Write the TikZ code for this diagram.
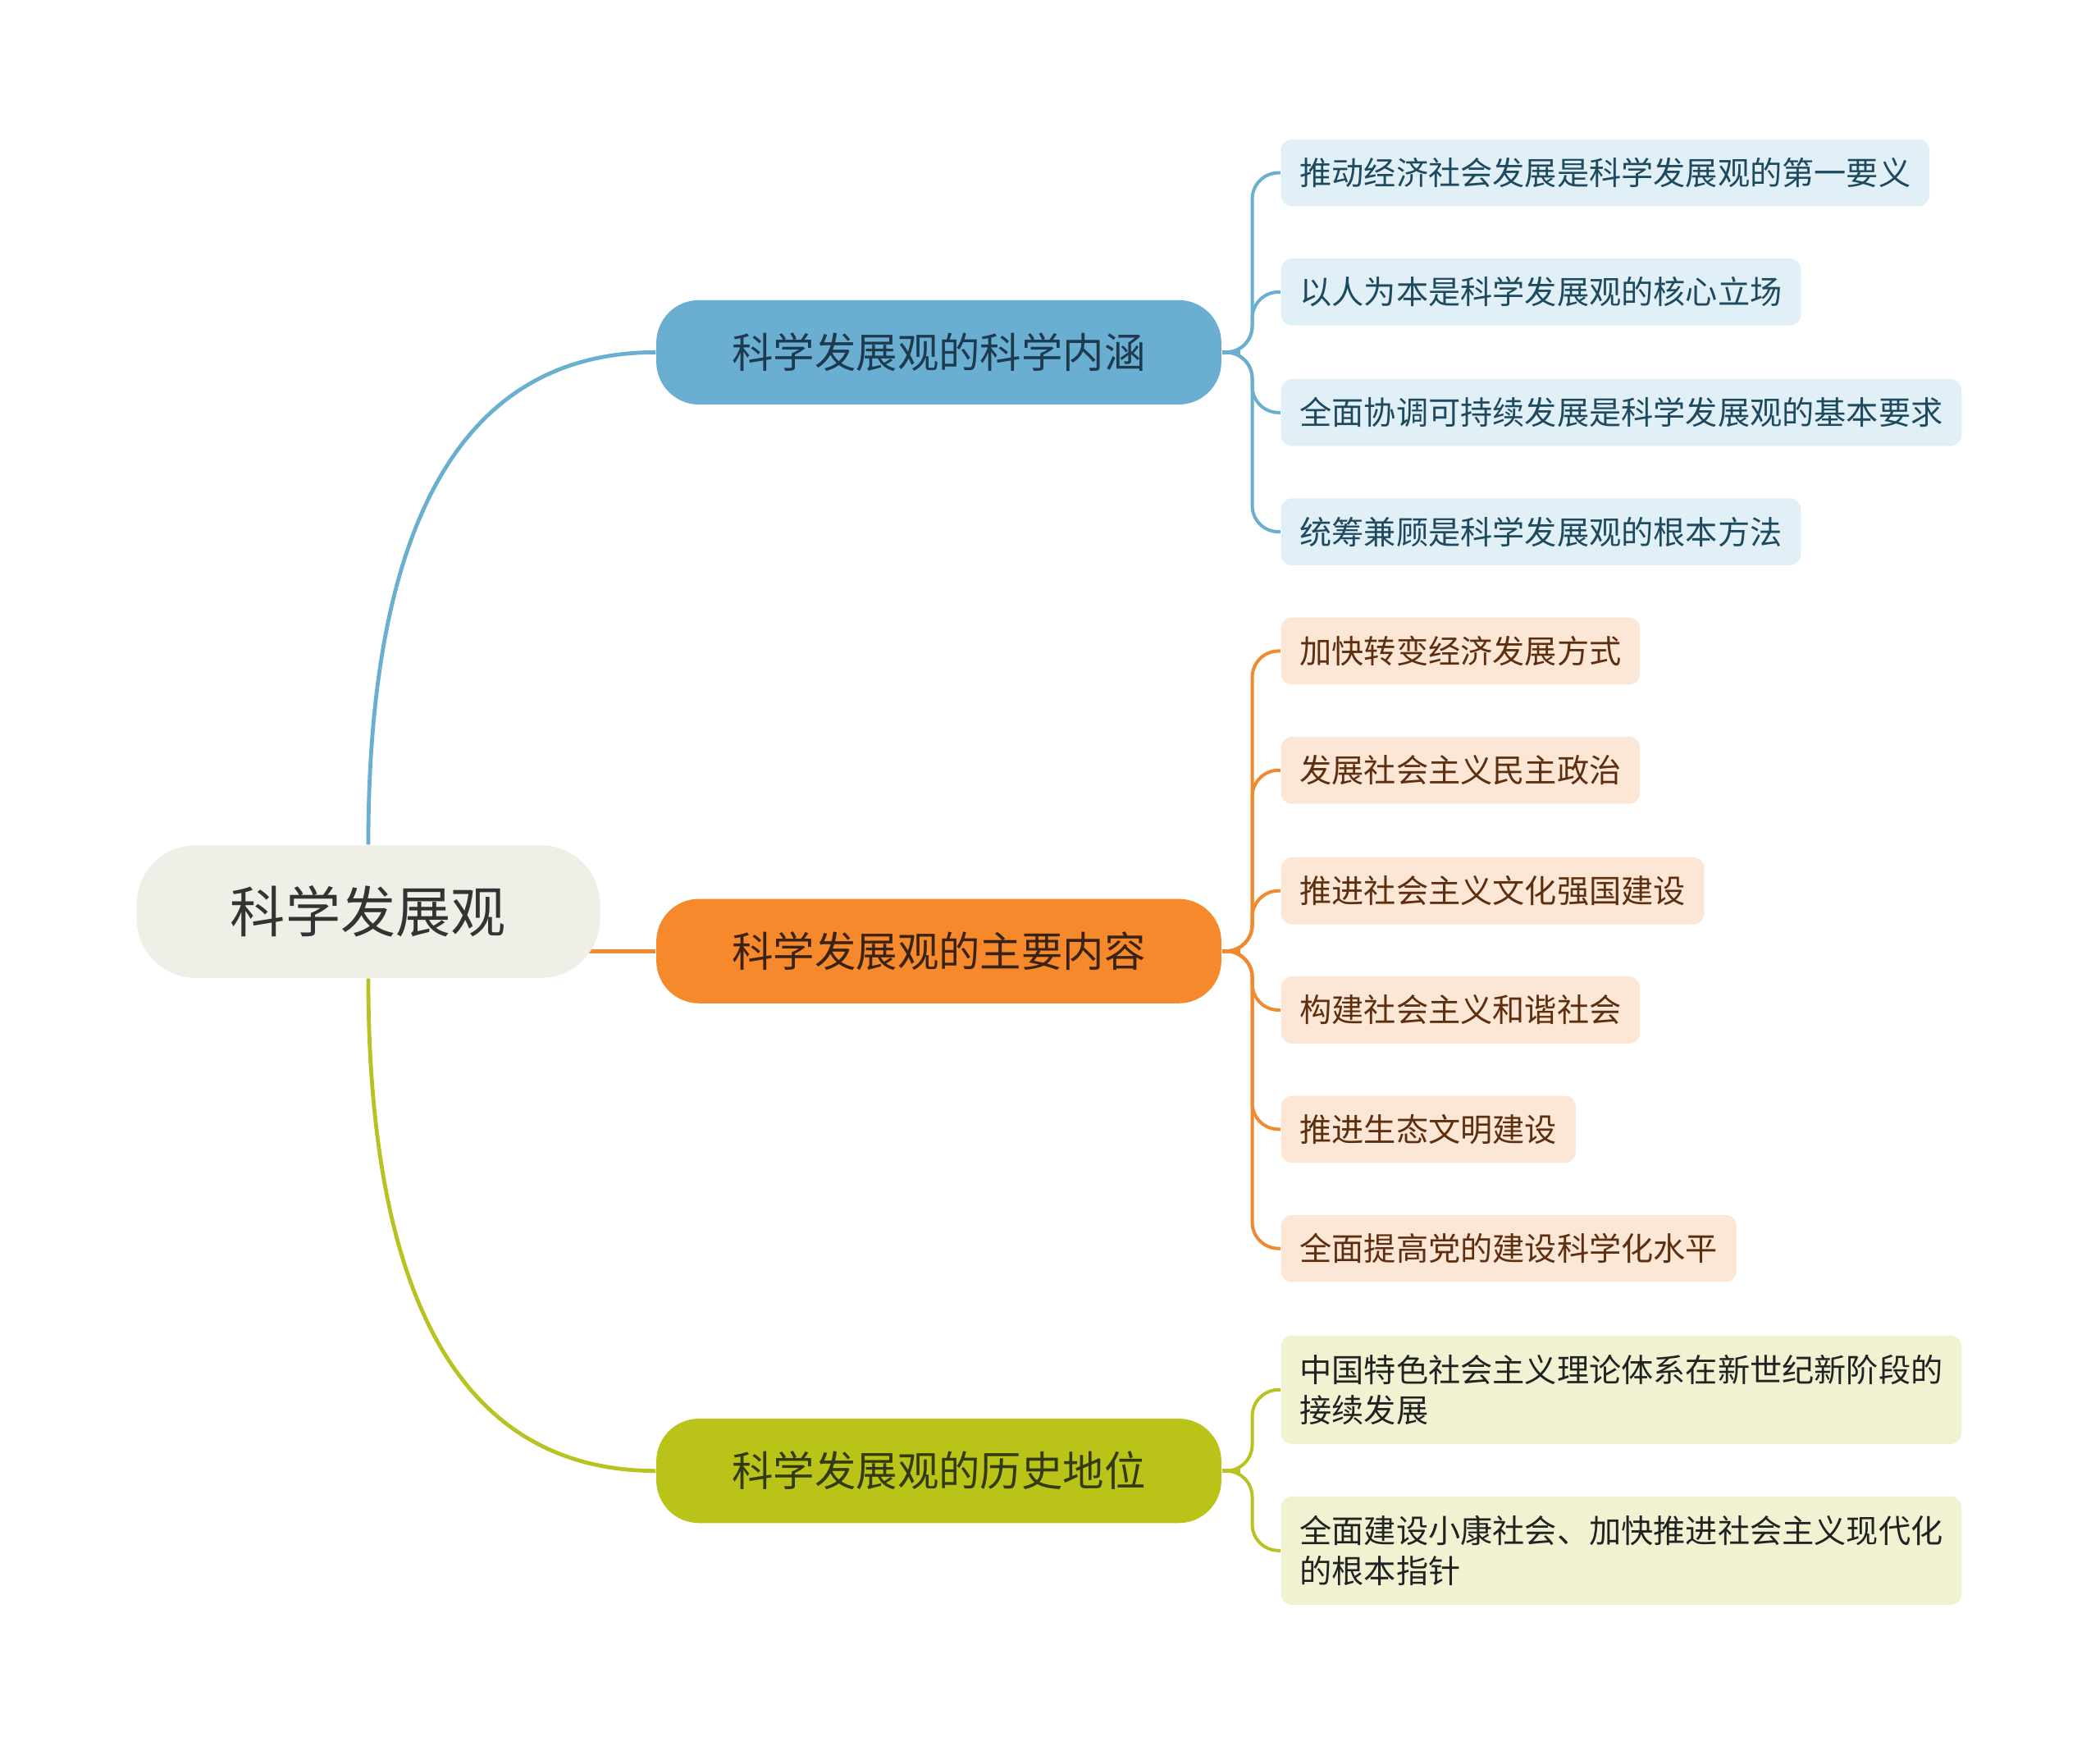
\documentclass[tikz,border=0pt]{standalone}
\usepackage{fontspec}
\setmainfont{Noto Sans CJK SC}
\usetikzlibrary{backgrounds,calc}
\definecolor{rootfill}{HTML}{EFEFE7}
\definecolor{bluefill}{HTML}{6AAFD2}
\definecolor{orangefill}{HTML}{F5892B}
\definecolor{greenfill}{HTML}{BAC418}
\definecolor{blueline}{HTML}{6AAFD0}
\definecolor{orangeline}{HTML}{F08A30}
\definecolor{greenline}{HTML}{B8C220}
\definecolor{blueleaf}{HTML}{E1EFF7}
\definecolor{orangeleaf}{HTML}{FCE6D6}
\definecolor{greenleaf}{HTML}{F0F2D2}
\definecolor{bluetext}{HTML}{1E4A60}
\definecolor{orangetext}{HTML}{5E2F0F}
\definecolor{greentext}{HTML}{222222}
\definecolor{roottext}{HTML}{333333}
\definecolor{bonetext}{HTML}{1D3A4F}
\definecolor{btwotext}{HTML}{3B2314}
\definecolor{bthreetext}{HTML}{333A10}
\tikzset{
  rootbox/.style={fill=rootfill, rounded corners=18pt, minimum width=141.2pt, minimum height=40.4pt,
    inner sep=0pt, text=roottext, font=\fontsize{16.8pt}{20pt}\selectfont},
  branchbox/.style={rounded corners=13pt, minimum width=172.2pt, minimum height=31.8pt,
    inner sep=0pt, font=\fontsize{12.6pt}{15pt}\selectfont},
  leafbox/.style={anchor=west, rounded corners=3.3pt, minimum height=20.4pt, inner xsep=5.7pt,
    inner ysep=0pt, align=left, font=\fontsize{9.8pt}{12.2pt}\selectfont},
  bleaf/.style={leafbox, fill=blueleaf, text=bluetext},
  oleaf/.style={leafbox, fill=orangeleaf, text=orangetext},
  gleaf/.style={leafbox, fill=greenleaf, text=greentext, minimum height=33pt},
  mainline/.style={line width=1.2pt},
  leafline/.style={line width=1pt, rounded corners=8pt},
}
\begin{document}
\begin{tikzpicture}[x=0.40816pt, y=-0.40816pt]
\useasboundingbox (0,0) rectangle (1568,1303);
% root
\node[rootbox] (root) at (275,680.5) {科学发展观};
% branches
\node[branchbox, fill=bluefill, text=bonetext] (b1) at (701,263) {科学发展观的科学内涵};
\node[branchbox, fill=orangefill, text=btwotext] (b2) at (701,710) {科学发展观的主要内容};
\node[branchbox, fill=greenfill, text=bthreetext] (b3) at (701,1098) {科学发展观的历史地位};
% blue leaves
\node[bleaf] (l11) at (956,129) {推动经济社会发展是科学发展观的第一要义};
\node[bleaf] (l12) at (956,218) {以人为本是科学发展观的核心立场};
\node[bleaf] (l13) at (956,308) {全面协调可持续发展是科学发展观的基本要求};
\node[bleaf] (l14) at (956,397) {统筹兼顾是科学发展观的根本方法};
% orange leaves
\node[oleaf] (l21) at (956,486) {加快转变经济发展方式};
\node[oleaf] (l22) at (956,575) {发展社会主义民主政治};
\node[oleaf] (l23) at (956,665) {推进社会主义文化强国建设};
\node[oleaf] (l24) at (956,754) {构建社会主义和谐社会};
\node[oleaf] (l25) at (956,843) {推进生态文明建设};
\node[oleaf] (l26) at (956,932) {全面提高党的建设科学化水平};
% green leaves
\node[gleaf] (l31) at (956,1037.5) {中国特色社会主义理论体系在新世纪新阶段的\\接续发展};
\node[gleaf] (l32) at (956,1157.5) {全面建设小康社会、加快推进社会主义现代化\\的根本指针};
% connectors
\begin{pgfonlayer}{background}
\draw[mainline, blueline] (root.north) .. controls +(0,-211) and +(-160,0) .. (b1.west);
\draw[mainline, orangeline] (root.center |- b2.west) -- (b2.west);
\draw[mainline, greenline] (root.south) .. controls +(0,211) and +(-160,0) .. (b3.west);
\coordinate (j1) at (926,263);
\coordinate (j2) at (926,710);
\coordinate (j3) at (926,1098);
\draw[mainline, blueline] (b1.east) -- (j1);
\draw[mainline, orangeline] (b2.east) -- (j2);
\draw[mainline, greenline] (b3.east) -- (j3);
\foreach \l in {l11,l12,l13,l14}
  \draw[leafline, blueline] ($(j1)+(-6,0)$) -| ($(\l.west)+(-21,0)$) -- (\l.west);
\foreach \l in {l21,l22,l23,l24,l25,l26}
  \draw[leafline, orangeline] ($(j2)+(-6,0)$) -| ($(\l.west)+(-21,0)$) -- (\l.west);
\foreach \l in {l31,l32}
  \draw[leafline, greenline] ($(j3)+(-6,0)$) -| ($(\l.west)+(-21,0)$) -- (\l.west);
\end{pgfonlayer}
\end{tikzpicture}
\end{document}
